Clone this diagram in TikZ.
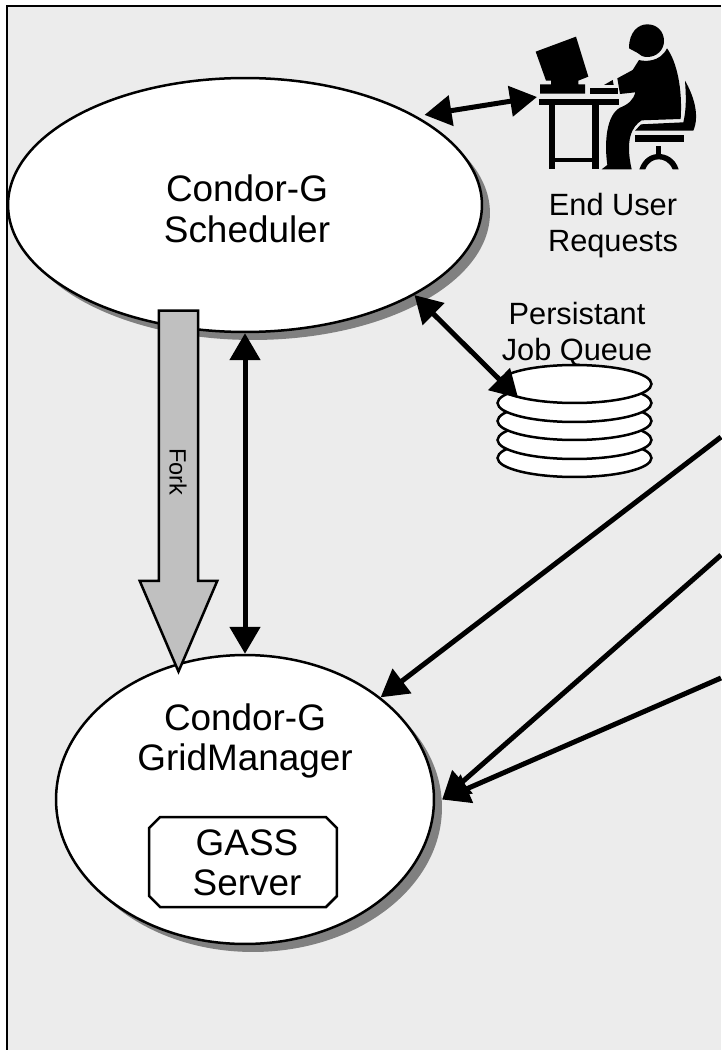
\documentclass[tikz,border=0pt]{standalone}
\usepackage{fontspec}
\setmainfont{Liberation Sans}
\usetikzlibrary{shapes,arrows.meta,shadows,positioning}

\definecolor{PanelGray}{HTML}{ECECEC}
\definecolor{ShadowGray}{HTML}{808080}
\definecolor{ForkGray}{HTML}{C0C0C0}

\begin{document}
\begin{tikzpicture}[x=0.02cm, y=-0.02cm]
	\tikzstyle{Big}		= [font=\fontsize{21}{23}\selectfont, align=center, inner sep=0pt]
	\tikzstyle{Small}	= [font=\fontsize{17.5}{20.5}\selectfont, align=center, inner sep=0pt]
	\tikzstyle{Oval}	= [ellipse, draw, fill=white, line width=0.05cm, inner sep=0pt,
						   drop shadow={shadow xshift=0.16cm, shadow yshift=-0.16cm, fill=ShadowGray, opacity=1}]
	\tikzstyle{Disk}	= [ellipse, draw, fill=white, line width=0.05cm, inner sep=0pt, minimum width=3.08cm, minimum height=0.76cm]
	\tikzstyle{Both}	= [line width=0.1cm, {Triangle[length=0.54cm,width=0.6cm]}-{Triangle[length=0.54cm,width=0.6cm]}]
	\tikzstyle{Into}	= [line width=0.1cm, -{Triangle[length=0.54cm,width=0.6cm]}]
	\tikzstyle{Solid}	= [fill=black, draw=none]

	\useasboundingbox (0, 0) rectangle (721, 1050);
	\fill [PanelGray] (7, 6) rectangle (721, 1050);
	\draw [line width=0.05cm] (7, 1050) -- (7, 6) -- (721, 6);

	% ovals
	\node (Sched) at (245, 205) [Oval, minimum width=9.48cm, minimum height=5.08cm] {};
	\node (Grid) at (245, 799.5) [Oval, minimum width=7.56cm, minimum height=5.78cm] {};
	\node (SchedText) at (247, 209) [Big] {Condor-G\\Scheduler};
	\node (GridText) at (245, 741) [Big] {Condor-G\\GridManager};
	\node (Gass) at (243, 862) [Big, chamfered rectangle, draw, fill=white, line width=0.05cm,
		chamfered rectangle xsep=0.11cm, chamfered rectangle ysep=0.11cm,
		minimum width=3.76cm, minimum height=1.8cm] {\phantom{GASS}};
	\node (GassText) at (247, 863) [Big] {GASS\\Server};

	% job queue
	\foreach \n/\y in {5/458, 4/440, 3/421, 2/403, 1/384}
		\node (Disk\n) at (574.5, \y) [Disk] {};
	\node (QueueText) at (577, 334) [Small] {Persistant\\Job Queue};

	% end user
	\node (UserText) at (613, 226) [Small] {End User\\Requests};
	\coordinate (Desk) at (537, 97);
	\begin{scope}[shift={(530, 15)}, x=0.00667cm, y=-0.00667cm]
		\path [Solid] (17, 110) -- (138, 65) -- (175, 185) -- (145, 197) -- (145, 208) -- (165, 208) -- (165, 236)
			-- (30, 236) -- (30, 208) -- (63, 208) -- (63, 197) -- (48, 197) -- cycle;
		\path [Solid] (180, 220) rectangle (265, 236);
		\path [Solid] (222, 210) -- (248, 195) -- (251, 210) -- cycle;
		\path [Solid] (28, 252) rectangle (267, 271);
		\path [Solid] (58, 271) rectangle (76, 463);
		\path [Solid] (187, 271) rectangle (206, 463);
		\path [Solid] (76, 428) rectangle (187, 442);
		\path [Solid] (297, 100) .. controls (297, 50) and (325, 28) .. (352, 28)
			.. controls (382, 28) and (402, 50) .. (402, 78)
			.. controls (402, 105) and (380, 126) .. (352, 126)
			.. controls (340, 126) and (330, 122) .. (323, 114) -- cycle;
		\path [Solid] (262, 190) -- (308, 165) -- (327, 135) .. controls (345, 140) and (390, 142) .. (411, 100)
			.. controls (440, 140) and (458, 220) .. (452, 312) -- (335, 316)
			.. controls (305, 335) and (285, 375) .. (305, 463) -- (215, 463) -- (232, 450)
			.. controls (222, 380) and (230, 300) .. (270, 278)
			.. controls (295, 268) and (310, 255) .. (316, 232) -- (270, 237) -- cycle;
		\path [Solid] (465, 197) .. controls (490, 240) and (510, 300) .. (490, 347) -- (315, 347)
			-- (333, 328) -- (460, 322) .. controls (470, 280) and (468, 240) .. (465, 197);
		\path [Solid] (315, 360) rectangle (462, 382);
		\path [Solid] (378, 392) rectangle (394, 420);
		\path [Solid] (328, 463) .. controls (340, 428) and (365, 417) .. (386, 417)
			.. controls (407, 417) and (435, 428) .. (446, 463) -- (428, 463)
			.. controls (418, 440) and (400, 433) .. (386, 433)
			.. controls (372, 433) and (355, 440) .. (346, 463) -- cycle;
	\end{scope}

	% connectors
	\coordinate (FarA) at (721, 437);
	\coordinate (FarB) at (721, 555);
	\coordinate (FarC) at (721, 678);
	\coordinate (GridEast) at ([xshift=0.14cm]Grid.east);
	\coordinate (SchedEast) at ([shift={(0.06cm,0.08cm)}]Sched.26);
	\node (Fork) at (178.5, 468) [single arrow, draw, fill=ForkGray, line width=0.05cm, inner sep=0.37cm,
		shape border rotate=270, minimum height=7.22cm,
		single arrow head extend=0.38cm, single arrow head indent=0cm, single arrow tip angle=46.3] {};
	\node (ForkText) at (178, 472) [font=\fontsize{13.4}{15}\selectfont, rotate=-90, inner sep=0pt] {Fork};
	\draw [Both] (Sched) to (Grid);
	\draw [Both] (SchedEast) to (Desk);
	\draw [Both] (Sched.-28.3) to (Disk1.194);
	\draw [Into] (FarA) to (Grid.37.6);
	\draw [Into] (FarB) to (GridEast);
	\draw [Into] (FarC) to (GridEast);
\end{tikzpicture}
\end{document}
